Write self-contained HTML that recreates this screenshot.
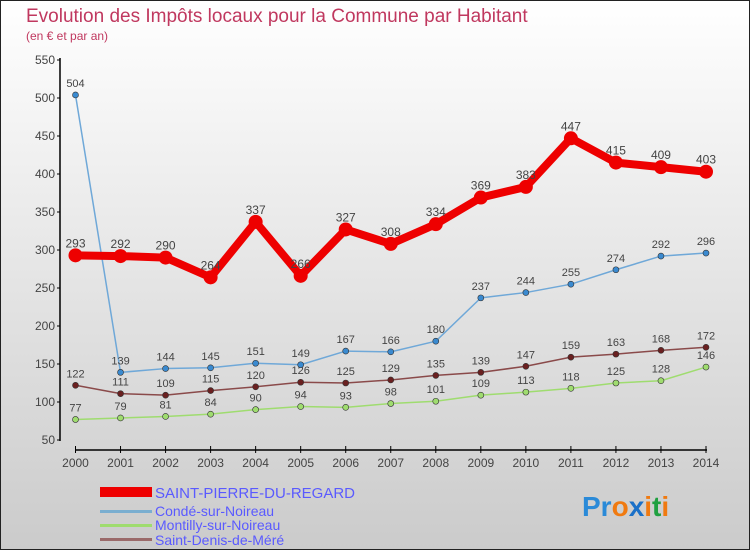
<!DOCTYPE html>
<html><head><meta charset="utf-8"><style>
body{margin:0}
#c{width:750px;height:550px;position:relative;font-family:"Liberation Sans",sans-serif;}
svg text{font-family:"Liberation Sans",sans-serif}
</style></head><body>
<div id="c">
<svg id="s" width="750" height="550" xmlns="http://www.w3.org/2000/svg">
<defs><linearGradient id="bg" x1="0" y1="0" x2="0" y2="1"><stop offset="0" stop-color="#ffffff"/><stop offset="1" stop-color="#cbcbcb"/></linearGradient></defs>
<rect x="0.5" y="0.5" width="749" height="549" fill="url(#bg)" stroke="#222"/>
<text x="26" y="22" font-size="19" fill="#c0385f">Evolution des Impôts locaux pour la Commune par Habitant</text>
<text x="26" y="40" font-size="12" fill="#c0385f">(en € et par an)</text>
<g id="axes"></g><g id="series"></g>
<g>
<rect x="100" y="487" width="52" height="10" fill="#e00"/>
<text x="155" y="498" font-size="15" fill="#5a5aff">SAINT-PIERRE-DU-REGARD</text>
<rect x="100" y="510" width="52" height="3" fill="#7aaed0"/>
<text x="155" y="516" font-size="14" fill="#5a5aff">Condé-sur-Noireau</text>
<rect x="100" y="524" width="52" height="3" fill="#9fdc6f"/>
<text x="155" y="530" font-size="14" fill="#5a5aff">Montilly-sur-Noireau</text>
<rect x="100" y="538" width="52" height="3" fill="#9a6a6a"/>
<text x="155" y="545" font-size="14" fill="#5a5aff">Saint-Denis-de-Méré</text>
</g>
<g font-size="28" font-weight="bold">
<text x="582" y="516"><tspan fill="#2a8ad8">Pr</tspan><tspan fill="#f07a10">o</tspan><tspan fill="#1a70c8">x</tspan><tspan fill="#f07a10">i</tspan><tspan fill="#20a040">t</tspan><tspan fill="#f07a10">i</tspan></text>
</g>
</svg>
</div>
<script>
const years=[2000,2001,2002,2003,2004,2005,2006,2007,2008,2009,2010,2011,2012,2013,2014];
const yTicks=[50,100,150,200,250,300,350,400,450,500,550];
const stPierre=[293,292,290,264,337,266,327,308,334,369,383,447,415,409,403];
const conde=[504,139,144,145,151,149,167,166,180,237,244,255,274,292,296];
const montilly=[77,79,81,84,90,94,93,98,101,109,113,118,125,128,146];
const stDenis=[122,111,109,115,120,126,125,129,135,139,147,159,163,168,172];
const NS='http://www.w3.org/2000/svg';
const X=i=>75.5+i*(706-75.5)/(years.length-1);
const Y=v=>440-(v-50)*0.76;
function mk(t,a,p){const e=document.createElementNS(NS,t);for(const k in a)e.setAttribute(k,a[k]);p.appendChild(e);return e;}
const ax=document.getElementById('axes');
const yl=mk('line',{x1:60,y1:58,x2:60,y2:441,stroke:'#000','stroke-width':1.5},ax);


const xl=mk('line',{x1:75,y1:450,x2:707,y2:450,stroke:'#000','stroke-width':1.5},ax);


yTicks.forEach(v=>{
  mk('line',{x1:57,y1:Y(v),x2:60,y2:Y(v),stroke:'#000'},ax);
  const t=mk('text',{x:55,y:Y(v)+4,'font-size':12,fill:'#444','text-anchor':'end'},ax);t.textContent=v;
  
  
});
years.forEach((yr,i)=>{
  mk('line',{x1:X(i),y1:446,x2:X(i),y2:453,stroke:'#000'},ax);
  const t=mk('text',{x:X(i),y:467,'font-size':12,fill:'#444','text-anchor':'middle'},ax);t.textContent=yr;
  
  
});
const sg=document.getElementById('series');
function series(data,name,col,dot,w,r,fs){
  const g=mk('g',{},sg);
  
  
  const pl=mk('polyline',{points:data.map((v,i)=>X(i)+','+Y(v)).join(' '),fill:'none',stroke:col,'stroke-width':w,'stroke-linejoin':'round'},g);
  
  
  data.forEach((v,i)=>{
    const c=mk('circle',{cx:X(i),cy:Y(v),r:r,fill:dot,stroke:'#333','stroke-width':r>4?0:0.6},g);
    
    
    const t=mk('text',{x:X(i),y:Y(v)-8,'font-size':fs,fill:'#444','text-anchor':'middle'},g);t.textContent=v;
    
    
  });
}
series(montilly,'montilly-series','#9fdc6f','#9fdc6f',1.5,3,11);
series(stDenis,'saint-denis-series','#8a4a4a','#6a2020',1.5,3,11);
series(conde,'conde-series','#6fa8d8','#3a8ad0',1.5,3,11);
series(stPierre,'saint-pierre-series','#ee0000','#ee0000',8,7,12);
</script>
</body></html>
